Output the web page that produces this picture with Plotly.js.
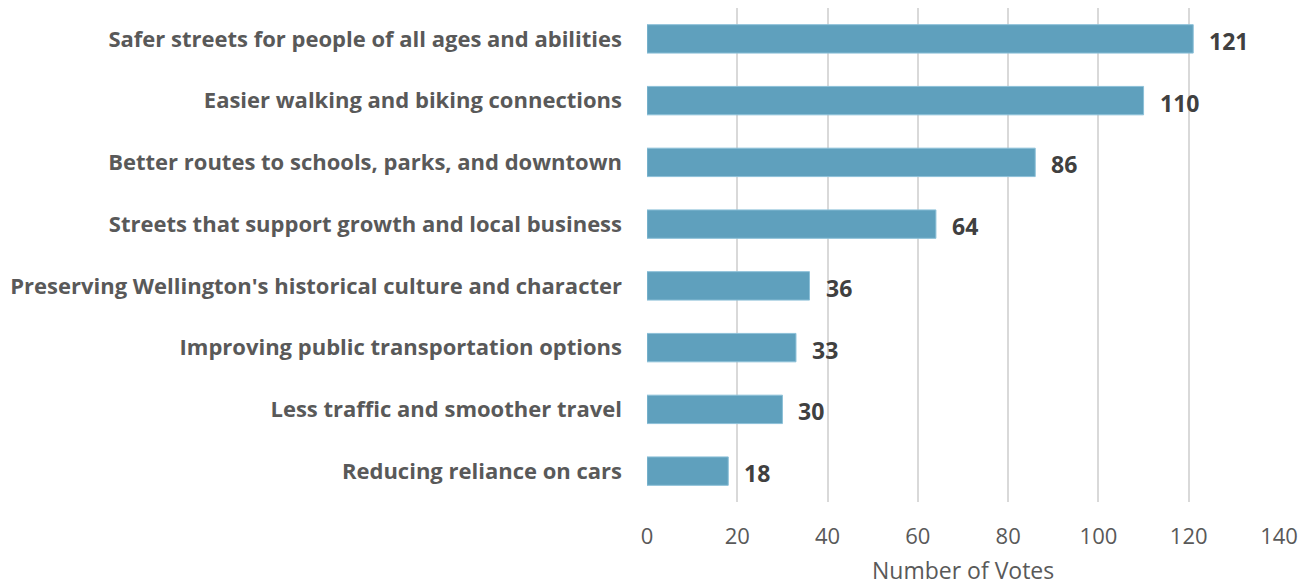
<!DOCTYPE html>
<html><head><meta charset="utf-8">
<script src="https://cdn.plot.ly/plotly-3.0.1.min.js"></script>
<style>html,body{margin:0;padding:0;background:#fff}</style>
</head><body>
<div id="chart" style="width:1302px;height:586px"></div>
<script>
const categories = [
  "Safer streets for people of all ages and abilities",
  "Easier walking and biking connections",
  "Better routes to schools, parks, and downtown",
  "Streets that support growth and local business",
  "Preserving Wellington's historical culture and character",
  "Improving public transportation options",
  "Less traffic and smoother travel",
  "Reducing reliance on cars"
];
const votes = [121, 110, 86, 64, 36, 33, 30, 18];
const xTicks = [0, 20, 40, 60, 80, 100, 120, 140];
const axisTitle = "Number of Votes";

const trace = {
  type: 'bar', orientation: 'h',
  x: votes, y: categories,
  marker: {color: '#5fa0bd', line: {color: '#8cc0d8', width: 1}},
  width: 0.46,
  hoverinfo: 'none'
};
const annotations = votes.map((v, i) => ({
  x: v, y: categories[i], xref: 'x', yref: 'y',
  text: '<b>' + v + '</b>', showarrow: false,
  xanchor: 'left', xshift: 14, yshift: -2,
  font: {family: 'Open Sans, sans-serif', size: 23, color: '#404040'}
}));
annotations.push({
  x: 0.5, y: 0, xref: 'paper', yref: 'paper',
  text: axisTitle, showarrow: false,
  xanchor: 'center', yanchor: 'middle', yshift: -68,
  font: {family: 'Open Sans, sans-serif', size: 23, color: '#595959'}
});
const layout = {
  width: 1302, height: 586,
  margin: {l: 647, r: 23, t: 8, b: 84},
  paper_bgcolor: '#fff', plot_bgcolor: '#fff',
  showlegend: false,
  font: {family: 'Open Sans, sans-serif', color: '#595959'},
  xaxis: {
    range: [0, 140], tickvals: xTicks, ticktext: xTicks.map(String),
    showgrid: true, gridcolor: '#d9d9d9', gridwidth: 2,
    zeroline: false, showline: false, ticks: '',
    tickfont: {size: 22, color: '#595959', family: 'Open Sans, sans-serif'},
    ticklabelstandoff: 19,
    automargin: false,
    fixedrange: true
  },
  yaxis: {
    autorange: 'reversed', type: 'category',
    showgrid: false, zeroline: false, showline: false, ticks: '',
    tickfont: {size: 22, color: '#595959', family: 'Open Sans, sans-serif', weight: 'bold'},
    ticklabelstandoff: 24,
    automargin: false,
    fixedrange: true
  },
  annotations: annotations
};
Plotly.newPlot('chart', [trace], layout, {displayModeBar: false, staticPlot: true});
</script>
</body></html>
